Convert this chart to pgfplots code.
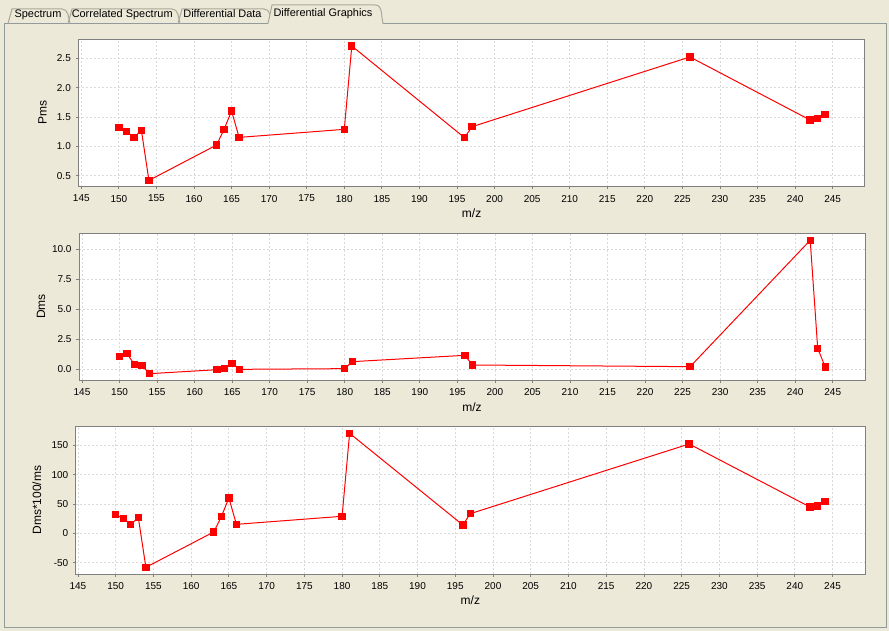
\documentclass[border=0pt]{standalone}
\usepackage{fontspec}
\setmainfont{Liberation Sans}
\usepackage{pgfplots}
\pgfplotsset{compat=1.18}

\definecolor{panelbg}{RGB}{236,233,216}
\definecolor{framegray}{RGB}{145,155,156}
\definecolor{tabline}{RGB}{172,168,153}
\definecolor{axisgray}{RGB}{128,128,128}
\definecolor{gridgray}{RGB}{218,218,218}

% Pms
\pgfplotstableread{
mz   val
150  1.324
151  1.256
152  1.153
153  1.273
154  0.420
163  1.023
164  1.290
165  1.602
166  1.153
180  1.290
181  2.710
196  1.148
197  1.335
226  2.523
242  1.449
243  1.472
244  1.545
}\pms

% Dms
\pgfplotstableread{
mz   val
150  1.056
151  1.306
152  0.389
153  0.306
154  -0.361
163  -0.030
164  0.056
165  0.500
166  0.000
180  0.056
181  0.640
196  1.167
197  0.361
226  0.222
242  10.750
243  1.750
244  0.194
}\dms

% Dms*100/ms
\pgfplotstableread{
mz   val
150  31.8
151  25.0
152  15.3
153  26.7
154  -58.0
163  2.3
164  28.4
165  60.2
166  15.3
180  29.0
181  170.5
196  14.2
197  33.5
226  152.3
242  44.9
243  46.6
244  54.5
}\dmsrel

\pgfplotsset{
  msplot/.style={
    scale only axis,
    xmin=144.6, xmax=249.3,
    xtick={145,150,...,245},
    scaled ticks=false,
    axis background/.style={fill=white},
    axis line style={axisgray, line width=0.75pt},
    tick style={axisgray, line width=0.6pt},
    major tick length=1.9pt,
    tick align=outside,
    xtick pos=bottom, ytick pos=left,
    grid=major,
    major grid style={gridgray, dash pattern=on 1.5pt off 1.5pt, line width=0.6pt},
    tick label style={font=\fontsize{7.5}{9}\selectfont, black, inner sep=0pt},
    /pgf/number format/assume math mode=true,
    xticklabel style={anchor=center, yshift=-7pt},
    yticklabel style={anchor=east, xshift=-3.5pt},
    label style={font=\fontsize{9}{10}\selectfont},
    xlabel={m/z},
    ylabel style={anchor=center},
    xlabel style={anchor=center},
  },
  msline/.style={red, line width=0.75pt, mark=square*, mark size=2.4pt,
    mark options={solid, fill=red}},
}

\begin{document}
\begin{tikzpicture}
\useasboundingbox (0,0) rectangle (666.75pt,-473.25pt);

\begin{scope}[x=0.75pt,y=-0.75pt]
  \fill[panelbg] (0,0) rectangle (889,631);
  % panel frame
  \draw[framegray, line width=0.75pt] (4.5,23.5) rectangle (886.5,627);
  % tabs
  \foreach \a/\b in {8/70, 68/180, 178/272}{
    \draw[tabline, line width=0.75pt] (\a,23.5) -- (\a+4,9) -- (\b-8,9)
      to[out=0,in=105] (\b,23.5);
  }
  \fill[panelbg] (268,24) -- (272,5) -- (375,5) to[out=0,in=105] (383,24) -- cycle;
  \draw[tabline, line width=0.75pt] (268,23.5) -- (272,5) -- (375,5)
      to[out=0,in=105] (383,23.5);
  \begin{scope}[every node/.style={font=\fontsize{8.2}{10}\selectfont, anchor=base, inner sep=0pt}]
    \node at (38,17.5) {Spectrum};
    \node at (122.2,17.5) {Correlated Spectrum};
    \node at (222.5,17.5) {Differential Data};
    \node at (323,16.7) {Differential Graphics};
  \end{scope}
\end{scope}

% Pms
\begin{axis}[msplot,
  at={(58.725pt,-140.025pt)}, anchor=south west,
  width=590.0pt, height=110.55pt,
  ymin=0.313, ymax=2.824,
  ytick={0.5,1.0,1.5,2.0,2.5},
  yticklabel style={/pgf/number format/.cd, fixed, fixed zerofill, precision=1},
  ylabel={Pms},
  ylabel style={at={(axis description cs:-0.0453,0.5)}},
  xlabel style={at={(axis description cs:0.5,-0.1805)}},
]
\addplot[msline] table[x=mz, y=val] {\pms};
\end{axis}

% Dms
\begin{axis}[msplot,
  at={(59.25pt,-285pt)}, anchor=south west,
  width=589.5pt, height=110.025pt,
  ymin=-0.889, ymax=11.333,
  ytick={0,2.5,5,7.5,10},
  yticklabel style={/pgf/number format/.cd, fixed, fixed zerofill, precision=1},
  ylabel={Dms},
  ylabel style={at={(axis description cs:-0.0483,0.5)}},
  xlabel style={at={(axis description cs:0.5,-0.184)}},
]
\addplot[msline] table[x=mz, y=val] {\dms};
\end{axis}

% Dms*100/ms
\begin{axis}[msplot,
  at={(56.775pt,-430.725pt)}, anchor=south west,
  width=591.975pt, height=111.225pt,
  xmin=144.7,
  ymin=-69.9, ymax=182.95,
  ytick={-50,0,50,100,150},
  ylabel={Dms*100/ms},
  ylabel style={at={(axis description cs:-0.0494,0.5)}},
  xlabel style={at={(axis description cs:0.5,-0.173)}},
]
\addplot[msline] table[x=mz, y=val] {\dmsrel};
\end{axis}
\end{tikzpicture}
\end{document}
